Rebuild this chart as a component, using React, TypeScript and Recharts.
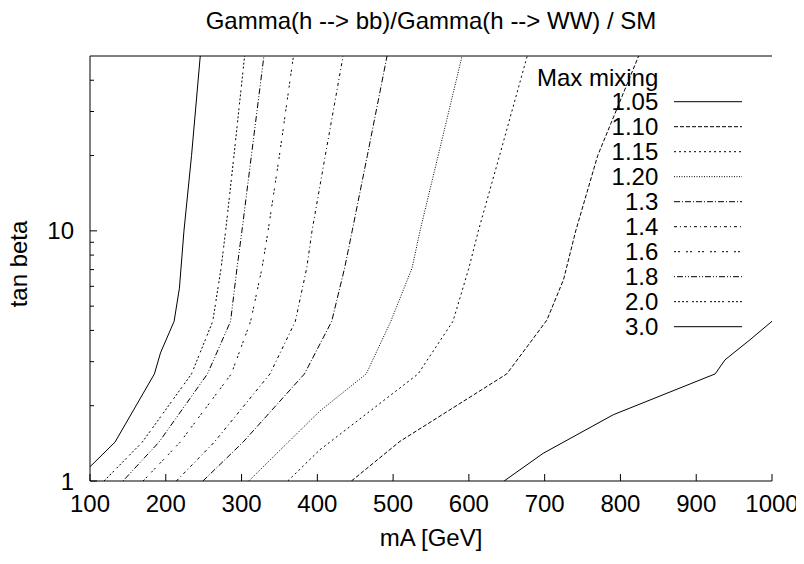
import { Line, LineChart, XAxis, YAxis } from 'recharts'

const FONT = '"Liberation Sans", Arial, Helvetica, sans-serif'
const W = 804
const H = 564

// contour levels of the ratio, legend order
const levels = ['1.05', '1.10', '1.15', '1.20', '1.3', '1.4', '1.6', '1.8', '2.0', '3.0']
// gnuplot-ish dash patterns, one per level
const dashes = ['', '4 2', '2 3', '1 1.5', '6 2 1 2', '3 3 1 3', '2 2 2 6', '1 2 6 2 1 2', '2 2 2 2 2 2 2 4', '']

// [mA, tan beta] points
const c105 = [[646.5, 1], [698, 1.29], [790.5, 1.84], [925, 2.68], [938, 3.05], [971, 3.67], [1000, 4.35]]
const c110 = [[445, 1], [509, 1.44], [650, 2.68], [703, 4.4], [725, 6.4], [741, 10], [770, 20], [824, 50]]
const c115 = [[361, 1], [403, 1.33], [533, 2.68], [579, 4.35], [600, 7.1], [612.5, 10], [640.5, 20], [677, 50]]
const c120 = [[309.5, 1], [403, 1.9], [464.5, 2.68], [497, 4.35], [525, 7.1], [535.5, 10], [559.5, 20], [591, 50]]
const c13 = [[249, 1], [302, 1.43], [383, 2.68], [419, 4.35], [436, 7.1], [446, 10], [466, 20], [492, 50]]
const c14 = [[214, 1], [264, 1.43], [337.5, 2.68], [371, 4.35], [386, 7.1], [393, 10], [410.5, 20], [434, 50]]
const c16 = [[170, 1], [219, 1.43], [286.5, 2.68], [312, 4.35], [327, 7.1], [335, 10], [350, 20], [368.5, 50]]
const c18 = [[143.5, 1], [191, 1.43], [255, 2.68], [285.5, 4.35], [294, 7.1], [300.5, 10], [313, 20], [329.5, 50]]
const c20 = [[118.5, 1], [169, 1.43], [234, 2.68], [262, 4.35], [273, 7.1], [279, 10], [290, 20], [304, 50]]
const c30 = [[100, 1.14], [133, 1.43], [185, 2.68], [193, 3.25], [211, 4.35], [218, 5.9], [224, 10], [234, 20], [245.5, 50]]

const contours = [c105, c110, c115, c120, c13, c14, c16, c18, c20, c30]

const xTicks = [100, 200, 300, 400, 500, 600, 700, 800, 900, 1000]
const yTicks = [1, 2, 3, 4, 5, 6, 7, 8, 9, 10, 20, 30, 40]
const yLabelled = [1, 10]

const isMajor = (v: number) => yLabelled.includes(v)

const BottomTick = (props: any) => {
  const { x, y, payload } = props
  return (
    <g>
      <line x1={x} x2={x} y1={y} y2={y - 7} stroke="#000" />
      <text x={x} y={y + 31} textAnchor="middle" fontSize={24} fontFamily={FONT} fill="#000">
        {payload.value}
      </text>
    </g>
  )
}

const TopTick = (props: any) => {
  const { x, y } = props
  return <line x1={x} x2={x} y1={y} y2={y + 7} stroke="#000" />
}

const LeftTick = (props: any) => {
  const { x, y, payload } = props
  const major = isMajor(payload.value)
  return (
    <g>
      <line x1={x} x2={x + (major ? 7 : 4)} y1={y} y2={y} stroke="#000" />
      {major && (
        <text x={x - 16} y={y + 8.6} textAnchor="end" fontSize={24} fontFamily={FONT} fill="#000">
          {payload.value}
        </text>
      )}
    </g>
  )
}

const RightTick = (props: any) => {
  const { x, y, payload } = props
  const major = isMajor(payload.value)
  return <line x1={x} x2={x - (major ? 7 : 4)} y1={y} y2={y} stroke="#000" />
}

export default function App() {
  return (
    <div style={{ position: 'relative', width: W, height: H, margin: -8 }}>
      <LineChart width={W} height={H} margin={{ top: 0, right: 32, bottom: 0, left: 0 }}>
        <XAxis
          dataKey="mA"
          type="number"
          domain={[100, 1000]}
          allowDataOverflow
          ticks={xTicks}
          interval={0}
          height={83}
          tickSize={0}
          tickMargin={0}
          tickLine={false}
          axisLine={{ stroke: '#000' }}
          tick={<BottomTick />}
        />
        <XAxis
          xAxisId="top"
          orientation="top"
          type="number"
          domain={[100, 1000]}
          allowDataOverflow
          ticks={xTicks}
          interval={0}
          height={56}
          tickSize={0}
          tickMargin={0}
          tickLine={false}
          axisLine={{ stroke: '#000' }}
          tick={<TopTick />}
        />
        <YAxis
          type="number"
          scale="log"
          domain={[1, 50]}
          allowDataOverflow
          ticks={yTicks}
          interval={0}
          width={90}
          tickSize={0}
          tickMargin={0}
          tickLine={false}
          axisLine={{ stroke: '#000' }}
          tick={<LeftTick />}
        />
        <YAxis
          yAxisId="right"
          orientation="right"
          type="number"
          scale="log"
          domain={[1, 50]}
          allowDataOverflow
          ticks={yTicks}
          interval={0}
          width={0}
          tickSize={0}
          tickMargin={0}
          tickLine={false}
          axisLine={{ stroke: '#000' }}
          tick={<RightTick />}
        />
        {contours.map((pts, i) => (
          <Line
            key={levels[i]}
            name={levels[i]}
            data={pts.map(([mA, tb]) => ({ mA, tb }))}
            dataKey="tb"
            type="linear"
            stroke="#000"
            strokeWidth={1}
            strokeDasharray={dashes[i] || undefined}
            dot={false}
            activeDot={false}
            isAnimationActive={false}
          />
        ))}
      </LineChart>
      <svg
        width={W}
        height={H}
        style={{ position: 'absolute', left: 0, top: 0, pointerEvents: 'none' }}
        fontFamily={FONT}
        fontSize={24}
      >
        <text x={431} y={28.5} textAnchor="middle">
          Gamma(h --&gt; bb)/Gamma(h --&gt; WW) / SM
        </text>
        <text x={431} y={545.5} textAnchor="middle">
          mA [GeV]
        </text>
        <text x={26.7} y={264} textAnchor="middle" transform="rotate(-90 26.7 264)">
          tan beta
        </text>
        <text x={658.3} y={85.5} textAnchor="end">
          Max mixing
        </text>
        {levels.map((lv, i) => (
          <g key={lv}>
            <text x={658.3} y={110 + 25 * i} textAnchor="end">
              {lv}
            </text>
            <line
              x1={674}
              x2={742}
              y1={101.7 + 25 * i}
              y2={101.7 + 25 * i}
              stroke="#000"
              strokeWidth={1}
              strokeDasharray={dashes[i] || undefined}
            />
          </g>
        ))}
      </svg>
    </div>
  )
}
